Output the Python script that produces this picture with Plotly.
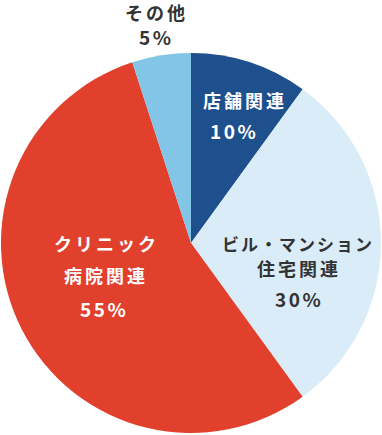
import plotly.graph_objects as go

categories = ["店舗関連", "ビル・マンション\n住宅関連", "クリニック\n病院関連", "その他"]
shares = [10, 30, 55, 5]
colors = ["#1f508e", "#d9ecf7", "#e0402c", "#82c5e7"]
text_colors = ["#ffffff", "#333333", "#ffffff", "#333333"]

W, H = 382, 435
fig = go.Figure(go.Pie(
    values=shares,
    labels=[c.replace("\n", " ") for c in categories],
    marker=dict(colors=colors, line=dict(width=0)),
    sort=False,
    direction="clockwise",
    rotation=0,
    textinfo="none",
    hoverinfo="skip",
    showlegend=False,
    domain=dict(x=[1 / W, 381 / W], y=[2 / H, 382 / H]),
))

# label line centres in pixels (per slice: list of (x, y) for each line incl. percent)
label_pos = [
    [(245, 100), (234, 130)],
    [(298, 243), (299, 268), (299, 298)],
    [(106, 243), (106, 275), (104, 308)],
    [(156, 12), (156, 37)],
]

annotations = []
for cat, val, tc, pos in zip(categories, shares, text_colors, label_pos):
    lines = cat.split("\n") + [f"{val}%"]
    for i, (line, (px, py)) in enumerate(zip(lines, pos)):
        is_pct = i == len(lines) - 1
        if is_pct:
            size, sp = 19, 2.5
        elif len(line) > 5:
            size, sp = 17, 2
        else:
            size, sp = 18, 3
        annotations.append(dict(
            x=px / W, y=1 - py / H, xref="paper", yref="paper",
            xanchor="center", yanchor="middle", showarrow=False,
            borderpad=0,
            text=f'<span style="letter-spacing:{sp}px"><b>{line}</b></span>',
            font=dict(family="Noto Sans CJK JP", size=size, color=tc),
        ))

fig.update_layout(
    width=W, height=H,
    margin=dict(l=0, r=0, t=0, b=0),
    paper_bgcolor="white", plot_bgcolor="white",
    annotations=annotations,
)
fig.write_html("out.html")
